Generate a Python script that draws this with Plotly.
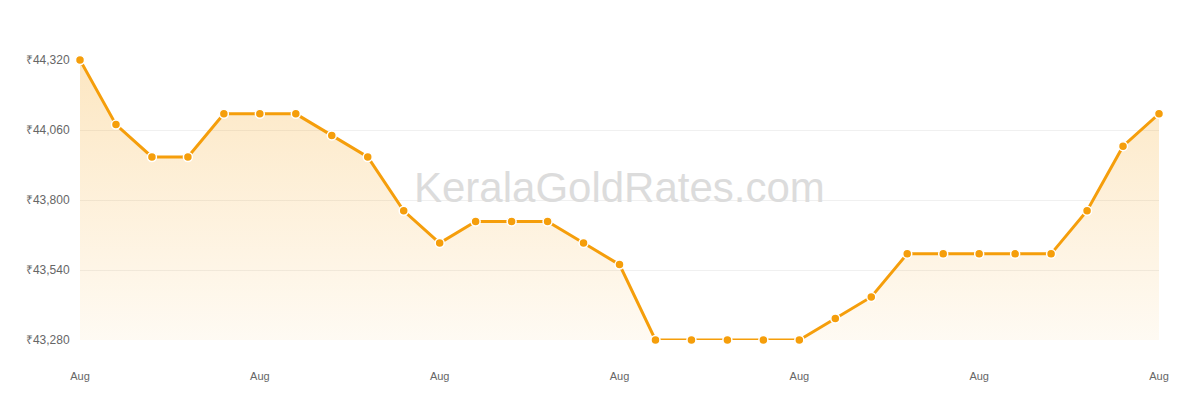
import plotly.graph_objects as go

days = list(range(1, 32))
prices = [44320, 44080, 43960, 43960, 44120, 44120, 44120, 44040, 43960, 43760,
          43640, 43720, 43720, 43720, 43640, 43560, 43280, 43280, 43280, 43280,
          43280, 43360, 43440, 43600, 43600, 43600, 43600, 43600, 43760, 44000,
          44120]
x_tick_days = [1, 6, 11, 16, 21, 26, 31]
x_tick_labels = ["Aug"] * 7
y_ticks = [43280, 43540, 43800, 44060, 44320]
y_tick_labels = ["₹43,280", "₹43,540", "₹43,800", "₹44,060", "₹44,320"]
baseline = [min(y_ticks)] * len(days)

orange = "#f59e0b"

fig = go.Figure()
fig.add_trace(go.Scatter(x=days, y=baseline, mode="lines", line=dict(width=0),
                         hoverinfo="skip", showlegend=False))
fig.add_trace(go.Scatter(
    x=days, y=prices, mode="lines+markers", fill="tonexty",
    fillgradient=dict(type="vertical", start=min(y_ticks), stop=max(y_ticks),
                      colorscale=[[0, "rgba(245,158,11,0.05)"], [1, "rgba(245,158,11,0.25)"]]),
    line=dict(color=orange, width=3),
    marker=dict(size=9, color=orange, line=dict(color="white", width=1.5)),
    cliponaxis=False, showlegend=False))

fig.add_annotation(text="KeralaGoldRates.com", xref="paper", yref="paper",
                   x=0.5, y=0.546, showarrow=False,
                   font=dict(family="Liberation Sans, Arial", size=42, color="#dcdcdc"))

fig.update_layout(
    width=1200, height=400,
    margin=dict(l=72, r=49, t=52, b=68),
    plot_bgcolor="white", paper_bgcolor="white",
    font=dict(family="Liberation Sans, Arial", color="#666"),
    xaxis=dict(range=[1, 31], tickvals=x_tick_days, ticktext=x_tick_labels,
               showgrid=False, zeroline=False, showline=False,
               ticks="outside", ticklen=26, tickcolor="rgba(0,0,0,0)",
               tickfont=dict(size=11, color="#666")),
    yaxis=dict(range=[43280, 44320], tickvals=y_ticks, ticktext=y_tick_labels,
               showgrid=True, gridcolor="#f0f0f0", gridwidth=1, zeroline=False,
               showline=False, ticks="outside", ticklen=7, tickcolor="rgba(0,0,0,0)",
               tickfont=dict(size=12, color="#666")),
)

fig.write_html("out.html")
